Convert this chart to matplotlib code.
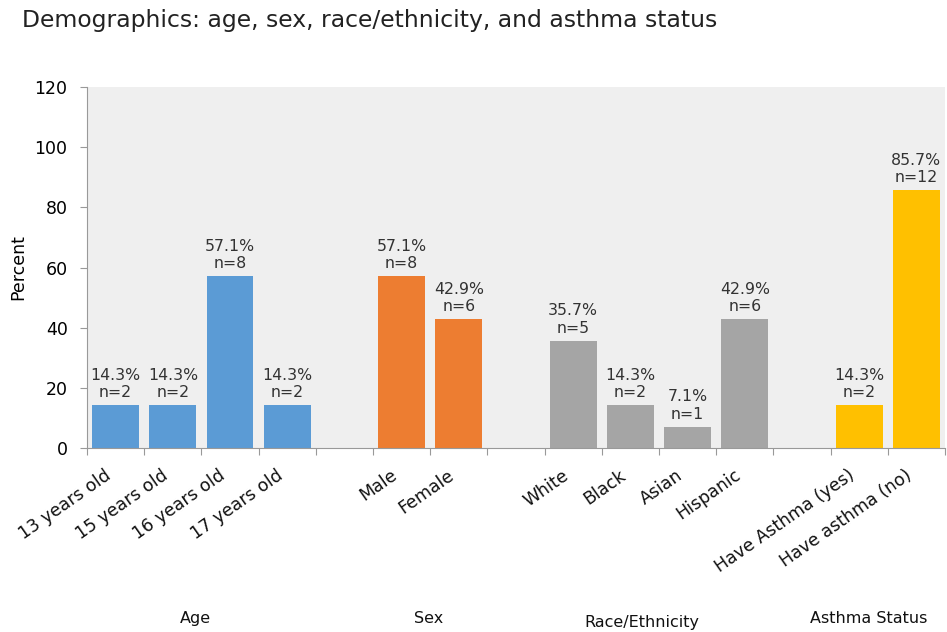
import matplotlib
matplotlib.use("Agg")
import matplotlib.pyplot as plt
from matplotlib.transforms import blended_transform_factory

categories = ["13 years old", "15 years old", "16 years old", "17 years old",
              "Male", "Female",
              "White", "Black", "Asian", "Hispanic",
              "Have Asthma (yes)", "Have asthma (no)"]
values = [14.3, 14.3, 57.1, 14.3, 57.1, 42.9, 35.7, 14.3, 7.1, 42.9, 14.3, 85.7]
counts = [2, 2, 8, 2, 8, 6, 5, 2, 1, 6, 2, 12]
groups = ["Age", "Age", "Age", "Age", "Sex", "Sex",
          "Race/Ethnicity", "Race/Ethnicity", "Race/Ethnicity", "Race/Ethnicity",
          "Asthma Status", "Asthma Status"]
group_names = ["Age", "Sex", "Race/Ethnicity", "Asthma Status"]
group_colors = {"Age": "#5b9bd5", "Sex": "#ed7d31", "Race/Ethnicity": "#a5a5a5", "Asthma Status": "#ffc000"}

# slot positions with blank slot between groups
positions = []
slot = 0
prev = None
for g in groups:
    if prev is not None and g != prev:
        slot += 1
    positions.append(slot)
    slot += 1
    prev = g
nslots = slot

fig = plt.figure(figsize=(9.47, 6.32), dpi=100)
ax = fig.add_axes([0.0919, 0.2911, 0.906, 0.5712])
ax.set_facecolor("#efefef")

cols = [group_colors[g] for g in groups]
ax.bar(positions, values, width=0.82, color=cols, edgecolor="none", zorder=2)
for x, v, n in zip(positions, values, counts):
    ax.text(x, v + 1.6, f"{v:.1f}%\nn={n}", ha="center", va="bottom",
            fontsize=11.3, color="#333333", linespacing=1.2)

ax.set_xlim(-0.5, nslots - 0.5)
ax.set_ylim(0, 120)
ax.set_yticks([0, 20, 40, 60, 80, 100, 120])
ax.tick_params(axis="y", labelsize=12.5, length=5, color="#999999", direction="out", pad=9)
ax.set_ylabel("Percent", fontsize=12.5, labelpad=5)

ax.set_xticks([p - 0.5 for p in range(nslots + 1)], minor=False)
ax.set_xticklabels([])
ax.tick_params(axis="x", length=5, color="#999999", direction="out")

for s in ["top", "right"]:
    ax.spines[s].set_visible(False)
for s in ["left", "bottom"]:
    ax.spines[s].set_color("#999999")

trans = blended_transform_factory(ax.transData, ax.transAxes)
for x, c in zip(positions, categories):
    ax.text(x - 0.2, -0.05, c, transform=trans, rotation=35, ha="right", va="top",
            rotation_mode="anchor", fontsize=12.5, color="#111111")

group_dx = {"Age": -0.1, "Sex": -0.03, "Race/Ethnicity": -0.3, "Asthma Status": -0.33}
group_dy = {"Age": -0.471, "Sex": -0.471, "Race/Ethnicity": -0.482, "Asthma Status": -0.471}
for g in group_names:
    xs = [p for p, gg in zip(positions, groups) if gg == g]
    cx = (min(xs) + max(xs)) / 2 + group_dx[g]
    ax.text(cx, group_dy[g], g, transform=trans, ha="center", va="center", fontsize=11.5,
            color="#111111")

fig.text(0.023, 0.967, "Demographics: age, sex, race/ethnicity, and asthma status",
         fontsize=16.9, ha="left", va="center", color="#222222")

fig.savefig("out.png", dpi=100)
